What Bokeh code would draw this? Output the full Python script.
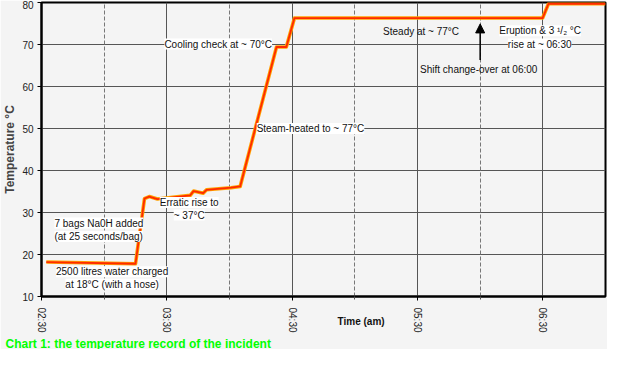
from bokeh.plotting import figure
from bokeh.models import Range1d, FixedTicker, Grid, Label, Arrow, NormalHead, LinearAxis, Title
from bokeh.embed import file_html
from bokeh.resources import INLINE

# minutes after 02:30
times = [2.3, 45, 49.3, 51.6, 55.5, 71.2, 72.8, 77.4, 79, 90.7, 95.1, 112.5, 117.2, 121.1, 239.9, 242.7, 270]
temps = [18.2, 17.8, 33.3, 33.8, 33.2, 34.1, 35.1, 34.6, 35.4, 35.9, 36.2, 69.4, 69.4, 76.3, 76.3, 79.7, 79.7]

x_ticks = [0, 60, 120, 180, 240]
x_tick_labels = ["02:30", "03:30", "04:30", "05:30", "06:30"]
half_hours = [30, 90, 150, 210]
y_ticks = [10, 20, 30, 40, 50, 60, 70, 80]
y_grid = [20, 30, 40, 50, 60, 70]

FONT = "Liberation Sans"
BG = "#f4f4f4"

p = figure(width=607, height=349, x_range=Range1d(0, 270), y_range=Range1d(10, 80),
           output_backend="svg", toolbar_location=None,
           min_border_left=36, min_border_right=2, min_border_top=2, min_border_bottom=10,
           background_fill_color=BG, border_fill_color=BG)

p.outline_line_color = "black"
p.outline_line_width = 2

# axes
p.xaxis.ticker = FixedTicker(ticks=x_ticks, minor_ticks=half_hours)
p.xaxis.major_label_overrides = {t: l for t, l in zip(x_ticks, x_tick_labels)}
p.xaxis.major_label_orientation = "vertical"
p.yaxis.ticker = FixedTicker(ticks=y_ticks, minor_ticks=[])
for ax in (p.xaxis, p.yaxis):
    ax.axis_line_color = "black"
    ax.axis_line_width = 2
    ax.major_tick_out = 4
    ax.major_tick_in = 0
    ax.major_tick_line_color = "black"
    ax.minor_tick_in = 0
    ax.minor_tick_out = 3
    ax.minor_tick_line_color = "#555"
    ax.major_label_text_font = FONT
    ax.major_label_text_font_size = "10px"
    ax.major_label_text_color = "#222"
p.xaxis.major_label_standoff = 7
p.yaxis.major_label_standoff = 4
p.yaxis.axis_label = "Temperature °C"
p.yaxis.axis_label_text_font = FONT
p.yaxis.axis_label_text_font_style = "bold"
p.yaxis.axis_label_text_font_size = "12px"
p.yaxis.axis_label_standoff = 2

# "Time (am)" title placed between the rotated tick labels via a bare second axis
time_axis = LinearAxis(ticker=FixedTicker(ticks=[153], minor_ticks=[]),
                       major_label_overrides={153: "Time (am)"},
                       axis_line_color=None, major_tick_line_color=None,
                       minor_tick_line_color=None, major_tick_out=0, major_tick_in=0,
                       major_label_standoff=-20, major_label_text_font=FONT,
                       major_label_text_font_size="10px", major_label_text_font_style="bold",
                       major_label_text_color="#111")
p.add_layout(time_axis, "below")

# caption under the chart
p.add_layout(Title(text="Chart 1: the temperature record of the incident", align="left",
                   offset=-36, standoff=-2, text_font=FONT, text_font_size="12px",
                   text_font_style="bold", text_color="#00ff00"), "below")

# grids
p.xgrid.ticker = FixedTicker(ticks=[60, 120, 180, 240])
p.xgrid.grid_line_color = "#555"
p.ygrid.ticker = FixedTicker(ticks=y_grid)
p.ygrid.grid_line_color = "#555"
p.add_layout(Grid(dimension=0, ticker=FixedTicker(ticks=half_hours),
                  grid_line_color="#777", grid_line_dash="4 2"))

# temperature trace
p.line(times, temps, line_color="#ffa200", line_width=3.6, line_join="round")
p.line(times, temps, line_color="#ff2a00", line_width=1.8, line_join="round")

def lab(x, y, text, align="center", bg="white", size="10px"):
    p.add_layout(Label(x=x, y=y, text=text, text_font=FONT, text_font_size=size,
                       text_align=align, text_baseline="middle", text_color="#111",
                       background_fill_color=bg))

lab(84.6, 70.1, "Cooling check at ~ 70°C")
lab(103.0, 50.0, "Steam-heated to ~ 77°C", align="left")
lab(181.7, 73.1, "Steady at ~ 77°C", bg=None)
lab(238.7, 73.3, "Eruption & 3 ¹/₂ °C")
lab(238.5, 70.1, "rise at ~ 06:30")
lab(209.3, 64.0, "Shift change-over at 06:00", bg=None)
lab(6.2, 27.5, "7 bags Na0H added", align="left")
lab(6.2, 24.3, "(at 25 seconds/bag)", align="left")
lab(70.7, 32.4, "Erratic rise to")
lab(70.7, 29.4, "~ 37°C")
lab(33.8, 15.9, "2500 litres water charged")
lab(33.8, 12.9, "at 18°C (with a hose)")

p.add_layout(Arrow(end=NormalHead(size=9, fill_color="black", line_color="black"),
                   x_start=210, y_start=66.3, x_end=210, y_end=74.9,
                   line_color="black", line_width=1.5))

open("out.html", "w").write(file_html(p, INLINE))
